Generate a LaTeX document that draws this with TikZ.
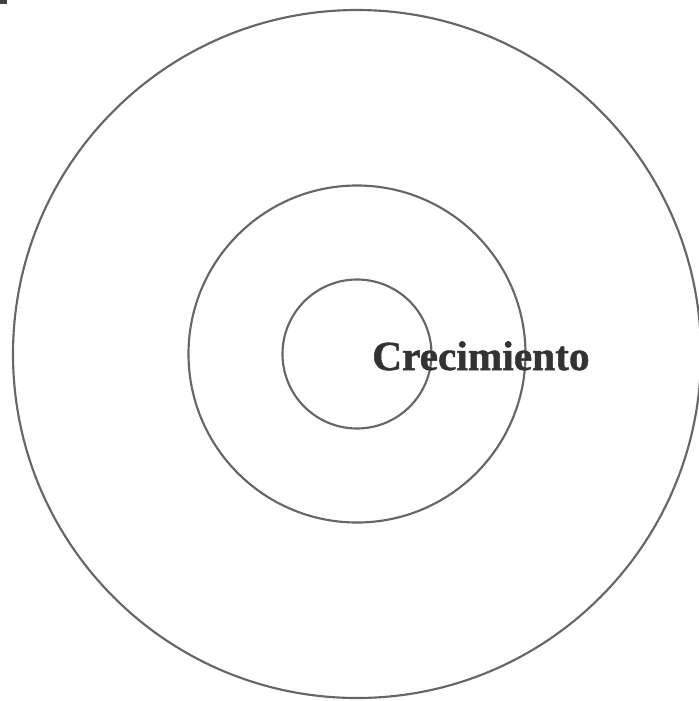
\documentclass[tikz,border=0pt]{standalone}
\usepackage{fontspec}
\newfontfamily\titlefont[BoldFeatures={FakeBold=1.2}]{Liberation Serif}
\usetikzlibrary{positioning}

\begin{document}
\begin{tikzpicture}[
  x=0.75pt, y=-0.75pt,
  ring/.style={draw=black!60, line width=1.6pt},
  label/.style={font=\titlefont\bfseries\fontsize{31}{36}\selectfont, text=black!80, inner sep=0pt}
]

\useasboundingbox (0,0) rectangle (699,701);

\fill[black!75] (0,0) rectangle (7,4);

\coordinate (center) at (357,354);

\draw[ring] (center) circle[radius=344];
\draw[ring] (center) circle[radius=168.5];
\draw[ring] (center) circle[radius=74.5];

\node[label, anchor=base west] (title) at (372,370) {Crecimiento};

\end{tikzpicture}
\end{document}
